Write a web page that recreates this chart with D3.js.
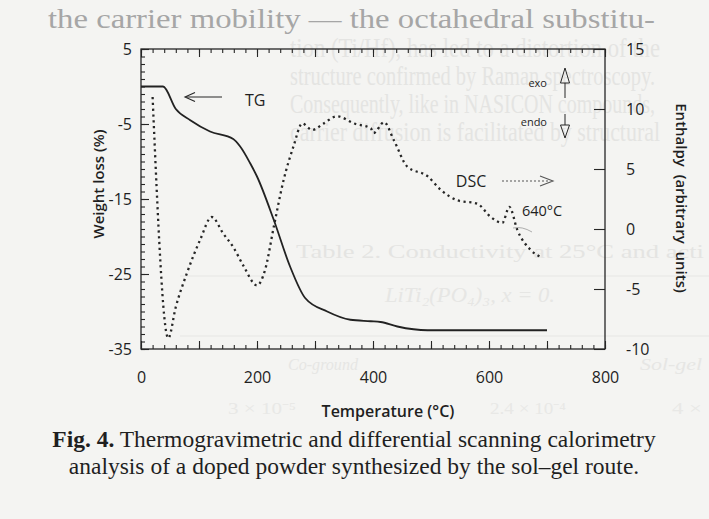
<!DOCTYPE html>
<html>
<head>
<meta charset="utf-8">
<script src="https://cdn.jsdelivr.net/npm/d3@7"></script>
<style>
  html, body { margin: 0; padding: 0; background: #f4f4f2; }
  svg { display: block; }
  text { fill: #1f1f1f; }
</style>
</head>
<body>
<div id="chart"></div>
<script>
// TG curve (left axis, weight loss %)
const tgTemp   = [0, 38, 60, 85, 119, 159, 171, 188, 200, 229, 257, 283, 321, 361, 396, 413, 442, 494, 700];
const tgWeight = [0, 0, -3.0, -4.5, -6.0, -7.0, -8.0, -10.2, -12.0, -17.8, -24.0, -28.2, -30.0, -31.1, -31.3, -31.4, -32.0, -32.5, -32.5];

// DSC curve (right axis, enthalpy arbitrary units)
const dscTemp     = [20, 47, 60, 79, 102, 122, 142, 159, 177, 200, 214, 229, 246, 263, 278, 295, 315, 338, 367, 396, 401, 419, 436, 459, 494, 517, 545, 580, 603, 623, 635, 649, 672, 692];
const dscEnthalpy = [11.0, -9.1, -6.5, -3.7, -0.9, 1.0, -0.4, -1.5, -3.1, -4.7, -3.4, 0.2, 4.1, 6.9, 8.8, 8.25, 8.8, 9.4, 8.8, 8.4, 8.0, 8.9, 7.4, 5.2, 4.4, 3.25, 2.4, 2.1, 1.0, 0.5, 1.85, -0.1, -1.75, -2.4];

// tick labels
const tempLabels     = [0, 200, 400, 600, 800];
const weightLabels   = [5, -5, -15, -25, -35];
const enthalpyLabels = [15, 10, 5, 0, -5, -10];

// faint text of the scanned page showing through
const ghostLines = [
    {t: 'the carrier mobility \u2014 the octahedral substitu-', x: 48, y: 28, w: 607, size: 27, c: '#a6a6a6'},
    {t: 'tion (Ti/Hf), has led to a distortion of the', x: 290, y: 57, w: 370, size: 27, c: '#e4e4e2'},
    {t: 'structure confirmed by Raman spectroscopy.', x: 290, y: 85, w: 365, size: 27, c: '#e4e4e2'},
    {t: 'Consequently, like in NASICON compounds,', x: 290, y: 113, w: 365, size: 27, c: '#e4e4e2'},
    {t: 'carrier diffusion is facilitated by structural', x: 290, y: 141, w: 370, size: 27, c: '#e4e4e2'},
    {t: 'Table 2. Conductivity at 25\u00b0C and acti', x: 296, y: 258, w: 408, size: 18, c: '#e4e4e2'},
    {t: 'LiTi\u2082(PO\u2084)\u2083, x = 0.', x: 385, y: 302, w: 170, size: 20, c: '#e6e6e4', it: true},
    {t: 'Co-ground', x: 288, y: 370, w: 70, size: 16, c: '#e6e6e4', it: true},
    {t: 'Sol-gel', x: 640, y: 370, w: 62, size: 16, c: '#e6e6e4', it: true},
    {t: '3 \u00d7 10\u207b\u2075', x: 228, y: 414, w: 68, size: 16, c: '#e8e8e6'},
    {t: '2.4 \u00d7 10\u207b\u2074', x: 490, y: 414, w: 76, size: 16, c: '#e8e8e6'},
    {t: '4 \u00d7', x: 672, y: 414, w: 30, size: 16, c: '#e8e8e6'}
];

const width = 709, height = 519;
const svg = d3.select('#chart').append('svg')
    .attr('width', width)
    .attr('height', height);

svg.append('rect').attr('width', width).attr('height', height).attr('fill', '#f4f4f2');

let $ghost = svg.append('g').attr('font-family', '"Liberation Serif", serif');
ghostLines.forEach(g => {
    $ghost.append('text')
        .attr('x', g.x).attr('y', g.y)
        .attr('font-size', g.size)
        .attr('font-style', g.it ? 'italic' : 'normal')
        .attr('textLength', g.w)
        .attr('lengthAdjust', 'spacingAndGlyphs')
        .style('fill', g.c)
        .text(g.t);
});
$ghost.append('line').attr('x1', 180).attr('x2', 709).attr('y1', 276).attr('y2', 276).attr('stroke', '#e6e6e4');
$ghost.append('line').attr('x1', 180).attr('x2', 709).attr('y1', 336).attr('y2', 336).attr('stroke', '#e6e6e4');

// scales
const x  = d3.scaleLinear().domain([0, 800]).range([141, 605]);
const yW = d3.scaleLinear().domain([-35, 5]).range([349, 49]);
const yE = d3.scaleLinear().domain([-10, 15]).range([349, 49]);

const fmt = d => String(d);
const ink = '#262626';

let axisStyle = (g) => {
    g.select('.domain').remove();
    g.selectAll('.tick line').attr('stroke', ink).attr('stroke-width', 1.1);
    g.selectAll('.tick text')
        .attr('font-family', '"Open Sans", sans-serif')
        .attr('font-size', 16)
        .style('fill', '#1f1f1f');
};

let $axes = svg.append('g');

// bottom axis: minor, major, labels
$axes.append('g').attr('transform', `translate(0,${yW(-35)})`)
    .call(d3.axisBottom(x).tickValues(d3.range(0, 801, 20)).tickSize(-4).tickFormat(''))
    .call(axisStyle);
$axes.append('g').attr('transform', `translate(0,${yW(-35)})`)
    .call(d3.axisBottom(x).tickValues(d3.range(0, 801, 100)).tickSize(-8).tickFormat(''))
    .call(axisStyle);
$axes.append('g').attr('transform', `translate(0,${yW(-35)})`)
    .call(d3.axisBottom(x).tickValues(tempLabels).tickSize(0).tickPadding(23).tickFormat(fmt))
    .call(axisStyle);

// top axis (ticks only)
$axes.append('g').attr('transform', `translate(0,${yW(5)})`)
    .call(d3.axisTop(x).tickValues(d3.range(0, 801, 20)).tickSize(-4).tickFormat(''))
    .call(axisStyle);
$axes.append('g').attr('transform', `translate(0,${yW(5)})`)
    .call(d3.axisTop(x).tickValues(d3.range(0, 801, 100)).tickSize(-8).tickFormat(''))
    .call(axisStyle);

// left axis
$axes.append('g').attr('transform', `translate(${x(0)},0)`)
    .call(d3.axisLeft(yW).tickValues(d3.range(-35, 6, 1)).tickSize(-4).tickFormat(''))
    .call(axisStyle);
$axes.append('g').attr('transform', `translate(${x(0)},0)`)
    .call(d3.axisLeft(yW).tickValues(weightLabels).tickSize(-8).tickPadding(9).tickFormat(fmt))
    .call(axisStyle);

// right axis
$axes.append('g').attr('transform', `translate(${x(800)},0)`)
    .call(d3.axisRight(yE).tickValues(enthalpyLabels).tickSize(-11).tickPadding(21).tickFormat(fmt))
    .call(axisStyle);

// frame
svg.append('rect')
    .attr('x', x(0)).attr('y', yW(5))
    .attr('width', x(800) - x(0)).attr('height', yW(-35) - yW(5))
    .attr('fill', 'none').attr('stroke', ink).attr('stroke-width', 1.3);

// curves
let tgLine = d3.line().x(d => x(d[0])).y(d => yW(d[1])).curve(d3.curveMonotoneX);
let dscLine = d3.line().x(d => x(d[0])).y(d => yE(d[1])).curve(d3.curveMonotoneX);

svg.append('path')
    .attr('d', tgLine(d3.zip(tgTemp, tgWeight)))
    .attr('fill', 'none').attr('stroke', '#222').attr('stroke-width', 1.8);

svg.append('path')
    .attr('d', dscLine(d3.zip(dscTemp, dscEnthalpy)))
    .attr('fill', 'none').attr('stroke', '#262626').attr('stroke-width', 2.3)
    .attr('stroke-dasharray', '2.2,3.6');

// annotations
let lab = svg.append('g').attr('font-family', '"Open Sans", sans-serif');

// TG label and arrow
lab.append('text').attr('x', 245).attr('y', 102).attr('font-size', 16).attr('dominant-baseline', 'middle').text('TG');
lab.append('line').attr('x1', 186).attr('x2', 222).attr('y1', 97).attr('y2', 97).attr('stroke', ink).attr('stroke-width', 1.1);
lab.append('polyline').attr('points', '195,92.5 185,97 195,101.5').attr('fill', 'none').attr('stroke', ink).attr('stroke-width', 1.1);

// DSC label and dotted arrow
lab.append('text').attr('x', 471).attr('y', 183).attr('font-size', 16).attr('text-anchor', 'middle').attr('dominant-baseline', 'middle').text('DSC');
lab.append('line').attr('x1', 502).attr('x2', 550).attr('y1', 181).attr('y2', 181)
    .attr('stroke', '#555').attr('stroke-width', 1.1).attr('stroke-dasharray', '2,2');
lab.append('polyline').attr('points', '540,176 553,181 540,186').attr('fill', 'none').attr('stroke', '#555').attr('stroke-width', 1.1);

// 640 C peak
lab.append('text').attr('x', 522).attr('y', 212).attr('font-size', 14.5).attr('dominant-baseline', 'middle').text('640\u00b0C');
lab.append('path').attr('d', 'M513,228 Q522,226 532,232').attr('fill', 'none').attr('stroke', '#9a9a9a').attr('stroke-width', 0.8);

// exo / endo arrows
lab.append('text').attr('x', 547).attr('y', 84).attr('font-size', 11).attr('text-anchor', 'end').attr('dominant-baseline', 'middle').text('exo');
lab.append('text').attr('x', 547).attr('y', 123).attr('font-size', 11).attr('text-anchor', 'end').attr('dominant-baseline', 'middle').text('endo');
lab.append('line').attr('x1', 565).attr('x2', 565).attr('y1', 83).attr('y2', 98).attr('stroke', ink).attr('stroke-width', 1);
lab.append('polygon').attr('points', '560.5,83 565,68 569.5,83').attr('fill', 'none').attr('stroke', ink).attr('stroke-width', 1);
lab.append('line').attr('x1', 565).attr('x2', 565).attr('y1', 114).attr('y2', 125).attr('stroke', ink).attr('stroke-width', 1);
lab.append('polygon').attr('points', '560.5,125 569.5,125 565,138').attr('fill', 'none').attr('stroke', ink).attr('stroke-width', 1);

// axis titles
lab.append('text').attr('x', 388).attr('y', 413).attr('font-size', 16).attr('font-weight', 600)
    .attr('text-anchor', 'middle').attr('dominant-baseline', 'middle').text('Temperature (\u00b0C)');
lab.append('text').attr('transform', 'translate(100,184) rotate(-90)').attr('font-size', 15).attr('font-weight', 600)
    .attr('text-anchor', 'middle').attr('dominant-baseline', 'middle').text('Weight loss (%)');
lab.append('text').attr('transform', 'translate(680,198) rotate(90)').attr('font-size', 15).attr('font-weight', 600)
    .attr('text-anchor', 'middle').attr('dominant-baseline', 'middle').style('white-space', 'pre')
    .text('Enthalpy  (arbitrary  units)');

// caption
let cap = svg.append('g').attr('font-family', '"Liberation Serif", serif').attr('font-size', 23.5);
let c1 = cap.append('text').attr('x', 354).attr('y', 447).attr('text-anchor', 'middle');
c1.append('tspan').attr('font-weight', 'bold').text('Fig. 4.');
c1.append('tspan').text(' Thermogravimetric and differential scanning calorimetry');
cap.append('text').attr('x', 354).attr('y', 474).attr('text-anchor', 'middle')
    .text('analysis of a doped powder synthesized by the sol\u2013gel route.');
</script>
</body>
</html>
